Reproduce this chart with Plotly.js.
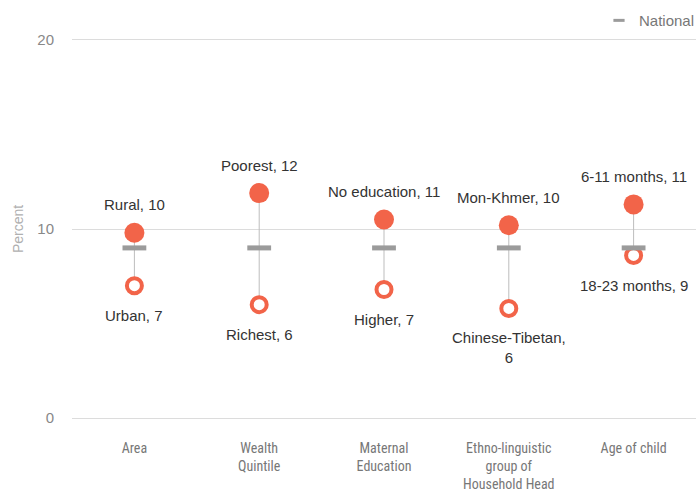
<!DOCTYPE html>
<html>
<head>
<meta charset="utf-8">
<script src="https://cdn.plot.ly/plotly-3.0.1.min.js"></script>
<style>html,body{margin:0;padding:0;background:#fff;}#chart{width:700px;height:491px;}</style>
</head>
<body>
<div id="chart"></div>
<script>
// Data
var categories = ["Area", "Wealth<br>Quintile", "Maternal<br>Education", "Ethno-linguistic<br>group of<br>Household Head", "Age of child"];
var highLabels = ["Rural", "Poorest", "No education", "Mon-Khmer", "6-11 months"];
var highValues = [9.8, 11.9, 10.5, 10.2, 11.3];
var highRounded = [10, 12, 11, 10, 11];
var lowLabels = ["Urban", "Richest", "Higher", "Chinese-Tibetan,<br>", "18-23 months"];
var lowValues = [7.0, 6.0, 6.8, 5.8, 8.6];
var lowRounded = [7, 6, 7, 6, 9];
var nationalValues = [9.0, 9.0, 9.0, 9.0, 9.0];

var xIdx = categories.map(function(_, i){ return i; });
var orange = "#f26449";
var fontFam = "'Liberation Sans', Arial, sans-serif";

// connecting lines
var lx = [], ly = [];
xIdx.forEach(function(i){ lx.push(i, i, null); ly.push(highValues[i], lowValues[i], null); });

var traces = [
  {x: lx, y: ly, mode: "lines", line: {color: "#bdbdbd", width: 1}, showlegend: false, hoverinfo: "skip"},
  {x: xIdx, y: highValues, mode: "markers", marker: {color: orange, size: 20}, showlegend: false, name: "High"},
  {x: xIdx, y: lowValues, mode: "markers", marker: {color: "#fff", size: 15, line: {color: orange, width: 4}}, showlegend: false, name: "Low"},
  {x: xIdx, y: nationalValues, mode: "markers", name: "National", showlegend: false,
   marker: {symbol: "line-ew", size: 17, color: "#9b9b9b", line: {color: "#9b9b9b", width: 5}}},
  {x: [null], y: [null], mode: "markers", name: "National", showlegend: true,
   marker: {symbol: "line-ew", size: 8, color: "#9b9b9b", line: {color: "#9b9b9b", width: 3}}}
];

var annotations = [];
xIdx.forEach(function(i){
  annotations.push({x: i, y: highValues[i], xref: "x", yref: "y", text: highLabels[i] + ", " + highRounded[i],
    showarrow: false, yshift: 28, font: {family: fontFam, size: 15, color: "#333"}});
  var lt = lowLabels[i].indexOf("<br>") >= 0 ? lowLabels[i] + lowRounded[i] : lowLabels[i] + ", " + lowRounded[i];
  annotations.push({x: i, y: lowValues[i], xref: "x", yref: "y", text: lt,
    showarrow: false, yshift: lt.indexOf("<br>") >= 0 ? -39 : -30, font: {family: fontFam, size: 15, color: "#333"}});
});

var layout = {
  width: 700, height: 491,
  margin: {l: 72, r: 4, t: 38, b: 71, autoexpand: false},
  paper_bgcolor: "#fff", plot_bgcolor: "#fff",
  font: {family: fontFam, color: "#777"},
  showlegend: true,
  legend: {xref: "container", yref: "container", x: 1.0, xanchor: "right", y: 0.958, yanchor: "middle", orientation: "h",
    font: {size: 15, color: "#777"}, bgcolor: "rgba(0,0,0,0)"},
  xaxis: {range: [-0.5, 4.5], tickvals: xIdx, ticktext: categories, showgrid: false, zeroline: false,
    showline: false, ticks: "outside", ticklen: 15, tickcolor: "rgba(0,0,0,0)",
    tickfont: {family: "'Liberation Sans Narrow', 'Roboto Condensed', " + fontFam, size: 14, color: "#777"}},
  yaxis: {range: [-0.1, 20.1], tickvals: [0, 10, 20], showgrid: true, gridcolor: "#dcdcdc", gridwidth: 1,
    zeroline: true, zerolinecolor: "#dcdcdc", zerolinewidth: 1, showline: false,
    ticks: "outside", ticklen: 14, tickcolor: "rgba(0,0,0,0)",
    tickfont: {size: 15, color: "#888"},
    title: {text: "Percent", font: {size: 14, color: "#b0b0b0"}, standoff: 10}},
  annotations: annotations
};

Plotly.newPlot("chart", traces, layout, {displayModeBar: false, staticPlot: true});
</script>
</body>
</html>
